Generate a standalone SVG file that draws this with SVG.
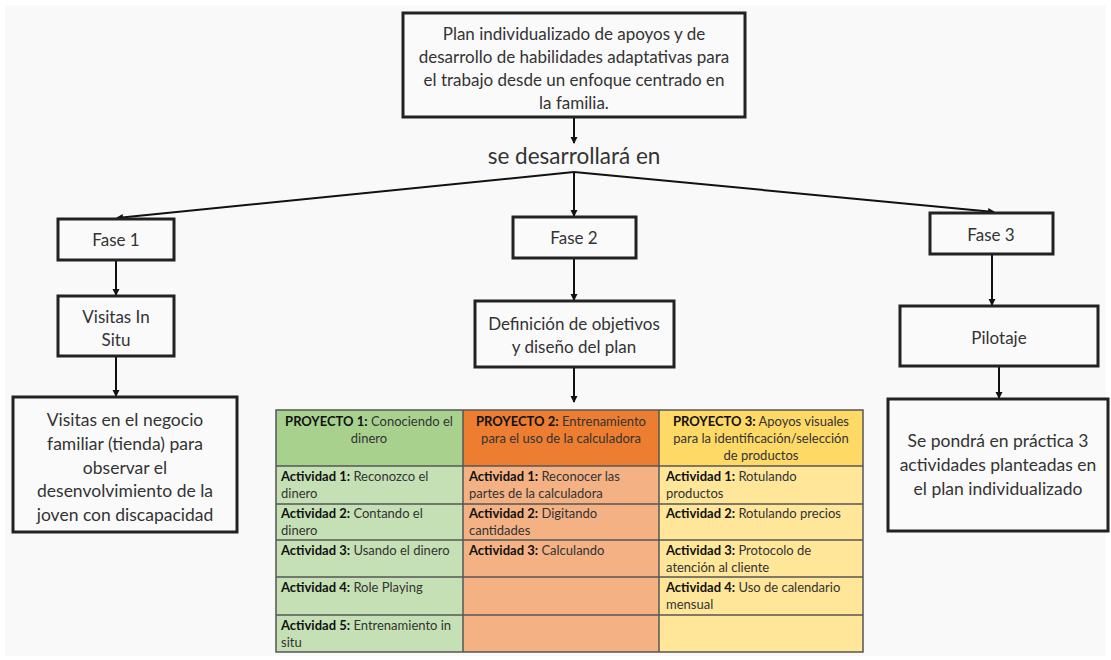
<svg xmlns="http://www.w3.org/2000/svg" width="1111" height="660" viewBox="0 0 1111 660">
<defs>
<marker id="ah" markerWidth="8" markerHeight="8" refX="6" refY="4" orient="auto" markerUnits="userSpaceOnUse">
<path d="M0,0.5 L7,4 L0,7.5 Z" fill="#111"/>
</marker>
<style>
.box{fill:#fafafa;stroke:#222;stroke-width:3}
.t{font-family:Lato,"Open Sans",sans-serif;font-size:17px;fill:#333;text-anchor:middle}
.l{font-size:17.5px}
.c{stroke:#111;stroke-width:2;fill:none;marker-end:url(#ah)}
.tb{font-family:Lato,"Liberation Sans",sans-serif;font-size:13px;fill:#333}
.tbc{text-anchor:middle}
.b{font-weight:bold;fill:#111}
.grid{stroke:#555;stroke-width:1.5;fill:none}
</style>
</defs>
<rect width="1111" height="660" fill="#fff"/>
<rect x="5" y="5" width="1101" height="651" fill="#f9f9f9"/>

<g id="connectors">
<line class="c" x1="574" y1="118" x2="574" y2="143"/>
<line class="c" x1="574" y1="172" x2="117" y2="218"/>
<line class="c" x1="574" y1="172" x2="574" y2="216"/>
<line class="c" x1="574" y1="172" x2="994" y2="212"/>
<line class="c" x1="116" y1="261" x2="116" y2="295"/>
<line class="c" x1="116" y1="357" x2="116" y2="396"/>
<line class="c" x1="574" y1="259" x2="574" y2="300"/>
<line class="c" x1="574" y1="368" x2="574" y2="402"/>
<line class="c" x1="992" y1="255" x2="992" y2="305"/>
<line class="c" x1="999" y1="367" x2="999" y2="398"/>
</g>

<g id="plan">
<rect class="box" x="403" y="13" width="342" height="104"/>
<text class="t" x="574" y="40">Plan individualizado de apoyos y de</text>
<text class="t" x="574" y="63">desarrollo de habilidades adaptativas para</text>
<text class="t" x="574" y="86">el trabajo desde un enfoque centrado en</text>
<text class="t" x="574" y="109">la familia.</text>
</g>

<g id="label">
<text class="t" x="574" y="164" style="font-size:22.5px">se desarrollará en</text>
</g>

<g id="fase1">
<rect class="box" x="58" y="219" width="116" height="41"/>
<text class="t" x="116" y="246">Fase 1</text>
</g>
<g id="visitas">
<rect class="box" x="58" y="296" width="116" height="60"/>
<text class="t" x="116" y="323">Visitas In</text>
<text class="t" x="116" y="346">Situ</text>
</g>
<g id="visitas-detalle">
<rect class="box" x="13" y="397" width="224" height="135"/>
<text class="t l" x="125" y="426">Visitas en el negocio</text>
<text class="t l" x="125" y="450">familiar (tienda) para</text>
<text class="t l" x="125" y="474">observar el</text>
<text class="t l" x="125" y="497">desenvolvimiento de la</text>
<text class="t l" x="125" y="521">joven con discapacidad</text>
</g>

<g id="fase2">
<rect class="box" x="513" y="217" width="123" height="41"/>
<text class="t" x="574" y="244">Fase 2</text>
</g>
<g id="definicion">
<rect class="box" x="475" y="301" width="199" height="66"/>
<text class="t" x="574" y="330">Definición de objetivos</text>
<text class="t" x="574" y="353">y diseño del plan</text>
</g>

<g id="fase3">
<rect class="box" x="930" y="213" width="123" height="41"/>
<text class="t" x="991" y="241">Fase 3</text>
</g>
<g id="pilotaje">
<rect class="box" x="900" y="306" width="198" height="60"/>
<text class="t" x="999" y="344">Pilotaje</text>
</g>
<g id="pilotaje-detalle">
<rect class="box" x="888" y="399" width="220" height="132"/>
<text class="t l" x="998" y="447">Se pondrá en práctica 3</text>
<text class="t l" x="998" y="471">actividades planteadas en</text>
<text class="t l" x="998" y="495">el plan individualizado</text>
</g>

<g id="tabla">
<rect x="276" y="410" width="187" height="56" fill="#a9d18e"/>
<rect x="276" y="466" width="187" height="186" fill="#c5e0b4"/>
<rect x="463" y="410" width="196" height="56" fill="#ed7d31"/>
<rect x="463" y="466" width="196" height="186" fill="#f4b183"/>
<rect x="659" y="410" width="204" height="56" fill="#ffd966"/>
<rect x="659" y="466" width="204" height="186" fill="#ffe699"/>
<rect class="grid" x="276" y="410" width="587" height="242"/>
<path class="grid" d="M463,410V652M659,410V652M276,466H863M276,504H863M276,540H863M276,577H863M276,615H863"/>

<text class="tb tbc" x="369" y="426"><tspan class="b">PROYECTO 1:</tspan>  Conociendo el</text>
<text class="tb tbc" x="369" y="443">dinero</text>
<text class="tb tbc" x="561" y="426"><tspan class="b">PROYECTO 2:</tspan> Entrenamiento</text>
<text class="tb tbc" x="561" y="443">para el uso de la calculadora</text>
<text class="tb tbc" x="761" y="426"><tspan class="b">PROYECTO 3:</tspan> Apoyos visuales</text>
<text class="tb tbc" x="761" y="443">para la identificación/selección</text>
<text class="tb tbc" x="761" y="460">de productos</text>

<text class="tb" x="281" y="481"><tspan class="b">Actividad 1:</tspan> Reconozco el</text>
<text class="tb" x="281" y="498">dinero</text>
<text class="tb" x="281" y="518"><tspan class="b">Actividad 2:</tspan> Contando el</text>
<text class="tb" x="281" y="535">dinero</text>
<text class="tb" x="281" y="555"><tspan class="b">Actividad 3:</tspan> Usando el dinero</text>
<text class="tb" x="281" y="592"><tspan class="b">Actividad 4:</tspan> Role Playing</text>
<text class="tb" x="281" y="630"><tspan class="b">Actividad 5:</tspan> Entrenamiento in</text>
<text class="tb" x="281" y="647">situ</text>

<text class="tb" x="469" y="481"><tspan class="b">Actividad 1:</tspan> Reconocer las</text>
<text class="tb" x="469" y="498">partes de la calculadora</text>
<text class="tb" x="469" y="518"><tspan class="b">Actividad 2:</tspan> Digitando</text>
<text class="tb" x="469" y="535">cantidades</text>
<text class="tb" x="469" y="555"><tspan class="b">Actividad 3:</tspan> Calculando</text>

<text class="tb" x="666" y="481"><tspan class="b">Actividad 1:</tspan> Rotulando</text>
<text class="tb" x="666" y="498">productos</text>
<text class="tb" x="666" y="518"><tspan class="b">Actividad 2:</tspan> Rotulando precios</text>
<text class="tb" x="666" y="555"><tspan class="b">Actividad 3:</tspan> Protocolo de</text>
<text class="tb" x="666" y="572">atención al cliente</text>
<text class="tb" x="666" y="592"><tspan class="b">Actividad 4:</tspan> Uso de calendario</text>
<text class="tb" x="666" y="609">mensual</text>
</g>
</svg>
